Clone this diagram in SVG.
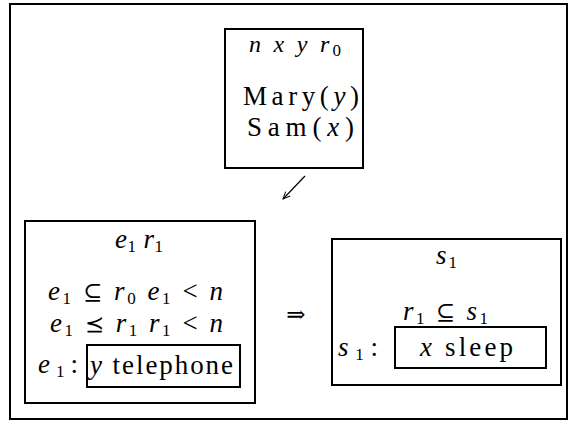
<svg xmlns="http://www.w3.org/2000/svg" width="569" height="421" viewBox="0 0 569 421">
<defs>
<style>
.box{fill:none;stroke:#000;stroke-width:2}
.t{font-family:"Liberation Serif","DejaVu Serif",serif;font-size:27px;fill:#000}
.h{font-size:24px}
.i{font-style:italic}
.s{font-size:17px;font-style:normal}
.sym{font-family:"DejaVu Serif",serif;font-style:normal;font-size:23px}
</style>
<marker id="ah" viewBox="0 0 10 10" refX="9" refY="5" markerWidth="8" markerHeight="8" orient="auto" markerUnits="userSpaceOnUse">
<path d="M0,1 L9,5 L0,9" fill="none" stroke="#000" stroke-width="1.2"/>
</marker>
</defs>
<rect width="569" height="421" fill="#fff"/>
<rect class="box" x="10" y="4" width="557" height="415"/>

<g id="top">
<rect class="box" x="225" y="29" width="138" height="139"/>
<text class="t h" x="249" y="52" textLength="92"><tspan class="i">n x y r</tspan><tspan class="s" dy="4">0</tspan></text>
<text class="t" x="243" y="105" textLength="116">Mary(<tspan class="i">y</tspan>)</text>
<text class="t" x="247" y="136" textLength="107">Sam(<tspan class="i">x</tspan>)</text>
</g>

<g id="left">
<rect class="box" x="25" y="221" width="230" height="182"/>
<text class="t" x="115" y="248" textLength="48"><tspan class="i">e</tspan><tspan class="s" dy="4">1</tspan><tspan class="i" dy="-4"> r</tspan><tspan class="s" dy="4">1</tspan></text>
<text class="t" x="48" y="300" textLength="175"><tspan class="i">e</tspan><tspan class="s" dy="4">1</tspan><tspan dy="-4"> </tspan><tspan class="sym">⊆</tspan><tspan> </tspan><tspan class="i">r</tspan><tspan class="s" dy="4">0</tspan><tspan class="i" dy="-4"> e</tspan><tspan class="s" dy="4">1</tspan><tspan dy="-4"> &lt; </tspan><tspan class="i">n</tspan></text>
<text class="t" x="50" y="332" textLength="173"><tspan class="i">e</tspan><tspan class="s" dy="4">1</tspan><tspan dy="-4"> </tspan><tspan class="sym">⪯</tspan><tspan> </tspan><tspan class="i">r</tspan><tspan class="s" dy="4">1</tspan><tspan class="i" dy="-4"> r</tspan><tspan class="s" dy="4">1</tspan><tspan dy="-4"> &lt; </tspan><tspan class="i">n</tspan></text>
<text class="t" x="38" y="373" textLength="40"><tspan class="i">e</tspan><tspan class="s" dy="4">1</tspan><tspan dy="-4">:</tspan></text>
<g id="telephone">
<rect class="box" x="87" y="345" width="153" height="42"/>
<text class="t" x="90" y="374" textLength="143"><tspan class="i">y</tspan> telephone</text>
</g>
</g>

<g id="right">
<rect class="box" x="332" y="239" width="229" height="146"/>
<text class="t" x="436" y="264" textLength="21"><tspan class="i">s</tspan><tspan class="s" dy="4">1</tspan></text>
<text class="t" x="403" y="320" textLength="85"><tspan class="i">r</tspan><tspan class="s" dy="4">1</tspan><tspan dy="-4"> </tspan><tspan class="sym">⊆</tspan><tspan> </tspan><tspan class="i">s</tspan><tspan class="s" dy="4">1</tspan></text>
<text class="t" x="338" y="356" textLength="40"><tspan class="i">s</tspan><tspan class="s" dy="4">1</tspan><tspan dy="-4">:</tspan></text>
<g id="sleep">
<rect class="box" x="395" y="327" width="151" height="41"/>
<text class="t" x="420" y="356" textLength="93"><tspan class="i">x</tspan> sleep</text>
</g>
</g>

<g id="connectors">
<line x1="305" y1="176" x2="283" y2="199" stroke="#000" stroke-width="1.2" marker-end="url(#ah)"/>
<text class="t sym" x="296" y="322" text-anchor="middle" font-size="24">⇒</text>
</g>
</svg>
